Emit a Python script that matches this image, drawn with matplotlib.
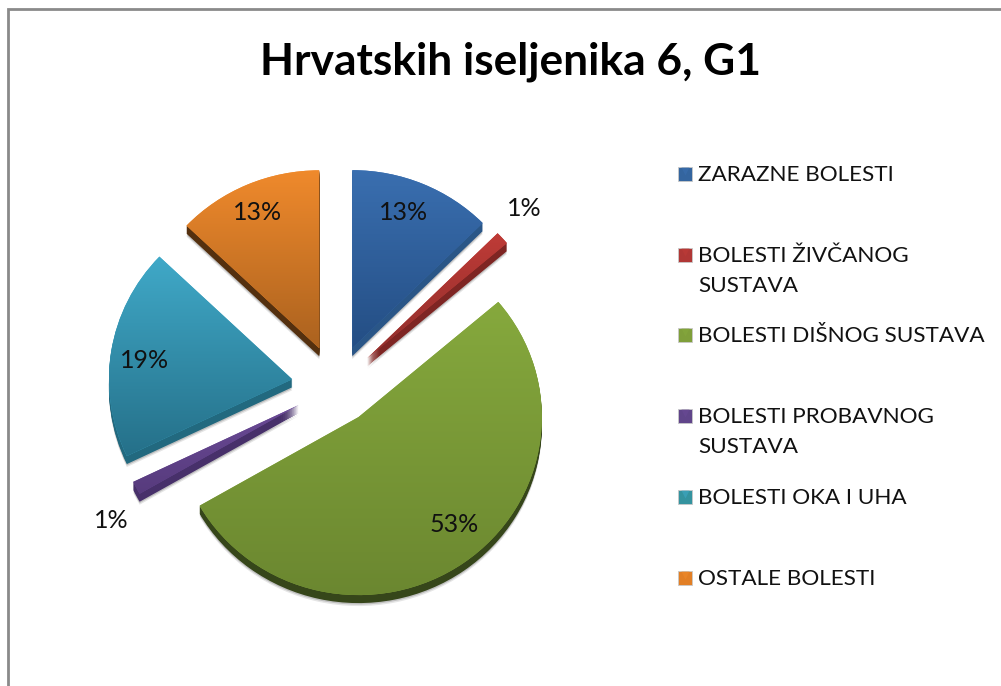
import numpy as np
import matplotlib
matplotlib.use("Agg")
import matplotlib.pyplot as plt
from matplotlib.colors import LinearSegmentedColormap

title = "Hrvatskih iseljenika 6, G1"
categories = ["ZARAZNE BOLESTI", "BOLESTI ŽIVČANOG\nSUSTAVA", "BOLESTI DIŠNOG SUSTAVA",
              "BOLESTI PROBAVNOG\nSUSTAVA", "BOLESTI OKA I UHA", "OSTALE BOLESTI"]
values = [12.6, 1.2, 52.9, 1.2, 19.2, 12.9]

top_colors = ["#3a6fb0", "#bf3b37", "#86a93d", "#6a4a96", "#40a9c8", "#f08a2c"]
bottom_colors = ["#244e84", "#8f2e2b", "#6b8730", "#573b7d", "#257089", "#ab621f"]
side_colors = ["#2a5687", "#7e2523", "#36461a", "#47306a", "#22697f", "#54300f"]
legend_colors = ["#34659f", "#b03735", "#7f9f3a", "#60458a", "#34939f", "#e27f25"]
explode = [41, 41, 38, 41, 43, 41]
label_xy = [(404, 212), (524, 208), (454, 525), (111, 520), (145, 361), (258, 213)]
legend_y = [174, 255, 335, 416, 497, 578]

W, H = 1001, 686
CX, CY, R, SX, DEPTH = 336, 386, 178, 1.03, 8
plt.rcParams['font.family'] = ['Lato', 'DejaVu Sans']

fig = plt.figure(figsize=(W / 100, H / 100), dpi=100, facecolor="white")
ax = fig.add_axes([0, 0, 1, 1])

pie_kw = dict(explode=explode, radius=R, startangle=90, counterclock=False, normalize=True)

# soft shadow
for k, a in [(DEPTH + 3, 0.10), (DEPTH + 1.5, 0.16)]:
    w, _ = ax.pie(values, center=(0, -k), colors=["#000000"] * len(values), **pie_kw)
    for p in w:
        p.set_alpha(a)
        p.set_zorder(1)
# extruded side
for k in np.arange(DEPTH, 0, -1):
    w, _ = ax.pie(values, center=(0, -k), colors=side_colors, **pie_kw)
    for p in w:
        p.set_zorder(2)
# top faces with a vertical gradient
faces, _ = ax.pie(values, center=(0, 0), colors=top_colors, **pie_kw)
for p, c0, c1 in zip(faces, top_colors, bottom_colors):
    p.set_zorder(3)
    p.set_edgecolor("none")
    pts = p.get_patch_transform().transform(p.get_path().vertices)
    x0, y0 = pts.min(axis=0)
    x1, y1 = pts.max(axis=0)
    cmap = LinearSegmentedColormap.from_list("g", [c0, c1])
    im = ax.imshow(np.linspace(1, 0, 256)[:, None], cmap=cmap, extent=(x0, x1, y0, y1),
                   origin="lower", aspect="auto", zorder=4)
    im.set_clip_path(p)

ax.set_aspect("auto")
ax.set_xlim(-CX / SX, (W - CX) / SX)
ax.set_ylim(CY - H, CY)
ax.axis("off")

# overlay in pixel coordinates
ov = fig.add_axes([0, 0, 1, 1], facecolor="none")
ov.set_xlim(0, W)
ov.set_ylim(H, 0)
ov.axis("off")

ov.plot([8, 8, W], [H, 9, 9], color="#8a8a8a", lw=2.0, solid_joinstyle="miter")
ov.text(510, 62, title, fontsize=31.9, fontweight="bold", color="#000000", ha="center", va="center")

for v, (x, y) in zip(values, label_xy):
    ov.text(x, y, f"{round(v)}%", fontsize=18, color="#111111", ha="center", va="center", zorder=6)

for cat, y, c, c0 in zip(categories, legend_y, legend_colors, top_colors):
    ov.scatter([685], [y], marker="s", s=105, color=c, edgecolors="#c9c9c9", linewidths=0.6, zorder=5)
    ov.scatter([685], [y - 3], marker="v", s=34, color=c0, alpha=0.55, linewidths=0, zorder=6)
    ov.text(698.5, y - 9, cat, fontsize=16.2, color="#111111", ha="left", va="top", linespacing=1.6)

fig.savefig("out.png", dpi=100, facecolor="white")
